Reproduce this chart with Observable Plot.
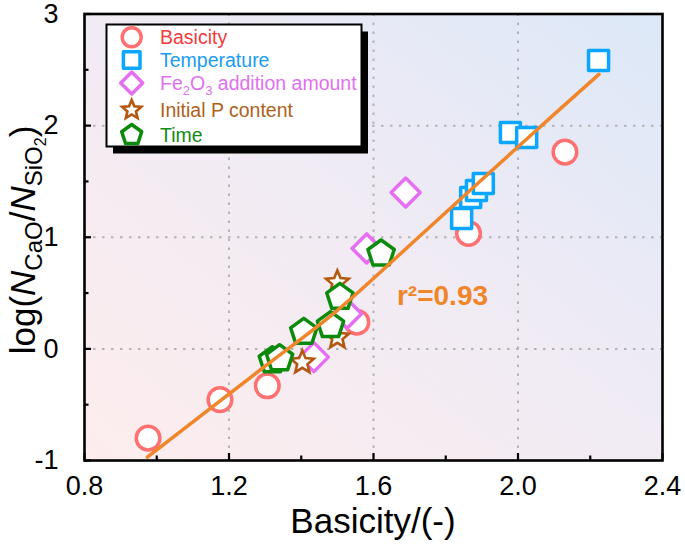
<!DOCTYPE html>
<html><head><meta charset="utf-8">
<script src="https://cdn.jsdelivr.net/npm/d3@7"></script>
<script src="https://cdn.jsdelivr.net/npm/@observablehq/plot@0.6"></script>
<style>body{margin:0;background:#fff}</style>
</head><body><div id="chart"></div>
<script>
// ---- data ----
const basicityX = [0.976, 1.175, 1.306, 1.554, 1.863, 2.130];
const basicityY = [-0.80, -0.455, -0.331, 0.239, 1.034, 1.763];
const temperatureX = [1.844, 1.869, 1.885, 1.904, 1.979, 2.024, 2.223];
const temperatureY = [1.168, 1.357, 1.419, 1.482, 1.939, 1.894, 2.584];
const fe2o3X = [1.435, 1.527, 1.581, 1.689];
const fe2o3Y = [-0.074, 0.315, 0.900, 1.401];
const initialPX = [1.403, 1.500, 1.500];
const initialPY = [-0.122, 0.102, 0.595];
const timeX = [1.320, 1.340, 1.407, 1.481, 1.507, 1.621];
const timeY = [-0.104, -0.086, 0.150, 0.210, 0.463, 0.852];
const fitX = [0.974, 1.287, 1.495, 1.730, 2.025, 2.224];
const fitY = [-0.970, -0.187, 0.331, 1.016, 1.883, 2.459];
const fitLabelText = ["r²=0.93"];
const fitLabelX = [1.791];
const fitLabelY = [0.47];
const xTicks = [0.8, 1.2, 1.6, 2.0, 2.4];
const xMinorTicks = [1.0, 1.4, 1.8, 2.2];
const yTicks = [-1, 0, 1, 2, 3];
const yMinorTicks = [-0.5, 0.5, 1.5, 2.5];
const xGridTicks = [1.2, 1.6, 2.0];
const yGridTicks = [0, 1, 2];
const seriesNames = ["Basicity", "Temperature", "Fe2O3 addition amount", "Initial P content", "Time"];
const xLabel = "Basicity/(-)";

// ---- styling ----
const W = 685, H = 546, ML = 84, MR = 23, MT = 13.5, MB = 86;
const innerW = W - ML - MR, innerH = H - MT - MB;
const FONT = "Arial, 'Liberation Sans', sans-serif";
const markerColors = ["#ff7070", "#0aa6ff", "#e56ef3", "#b4570f", "#0b8a0b"];
const textColors = ["#f03c3c", "#1a9cf2", "#e070ef", "#b0601a", "#138a13"];
const kinds = ["circle", "square", "diamond", "star", "pentagon"];
const plotR = [11.8, 10, 14.5, 12, 13.8];
const legendR = [9.5, 8.3, 11, 10, 10.5];
const strokeW = [3.5, 3.5, 3.5, 2.6, 3.5];

function makeSymbol(kind) {
  return {draw(ctx, size) {
    const r = Math.sqrt(size / Math.PI);
    if (kind === "circle") { ctx.moveTo(r, 0); ctx.arc(0, 0, r, 0, 2 * Math.PI); }
    else if (kind === "square") { ctx.rect(-r, -r, 2 * r, 2 * r); }
    else if (kind === "diamond") { ctx.moveTo(0, -r); ctx.lineTo(r, 0); ctx.lineTo(0, r); ctx.lineTo(-r, 0); ctx.closePath(); }
    else if (kind === "star") {
      for (let i = 0; i < 10; i++) {
        const a = -Math.PI / 2 + i * Math.PI / 5, rr = i % 2 ? r * 0.45 : r;
        const px = rr * Math.cos(a), py = rr * Math.sin(a);
        if (i) ctx.lineTo(px, py); else ctx.moveTo(px, py);
      }
      ctx.closePath();
    } else {
      for (let i = 0; i < 5; i++) {
        const a = -Math.PI / 2 + i * 2 * Math.PI / 5;
        const px = r * Math.cos(a), py = r * Math.sin(a);
        if (i) ctx.lineTo(px, py); else ctx.moveTo(px, py);
      }
      ctx.closePath();
    }
  }};
}

const seriesXY = [[basicityX, basicityY], [temperatureX, temperatureY], [fe2o3X, fe2o3Y], [initialPX, initialPY], [timeX, timeY]];
const dotMarks = seriesXY.map(([xs, ys], i) =>
  Plot.dot(xs.map((x, j) => ({x, y: ys[j]})), {
    x: "x", y: "y", r: plotR[i], symbol: makeSymbol(kinds[i]),
    fill: "white", stroke: markerColors[i], strokeWidth: strokeW[i],
    strokeLinejoin: kinds[i] === "star" ? "miter" : "round"
  }));

const fitData = fitX.map((x, i) => ({x, y: fitY[i]}));
const labelData = fitLabelText.map((t, i) => ({t, x: fitLabelX[i], y: fitLabelY[i]}));

const chart = Plot.plot({
  width: W, height: H,
  marginLeft: ML, marginRight: MR, marginTop: MT, marginBottom: MB,
  x: {domain: [0.8, 2.4], axis: null},
  y: {domain: [-1, 3], axis: null},
  style: {fontFamily: FONT, fontSize: "27px", background: "white", color: "black"},
  marks: [
    Plot.frame({fill: "url(#bgGrad)", stroke: null}),
    Plot.gridX(xGridTicks, {stroke: "#b3b3b3", strokeOpacity: 1, strokeWidth: 2, strokeDasharray: "2.5,6.5"}),
    Plot.gridY(yGridTicks, {stroke: "#b3b3b3", strokeOpacity: 1, strokeWidth: 2, strokeDasharray: "2.5,6.5"}),
    Plot.tickX(xTicks, {x: d => d, stroke: "black", strokeWidth: 2.2, insetTop: innerH - 7}),
    Plot.tickX(xMinorTicks, {x: d => d, stroke: "black", strokeWidth: 2.2, insetTop: innerH - 4.5}),
    Plot.tickY(yTicks, {y: d => d, stroke: "black", strokeWidth: 2.2, insetRight: innerW - 7}),
    Plot.tickY(yMinorTicks, {y: d => d, stroke: "black", strokeWidth: 2.2, insetRight: innerW - 4.5}),
    ...dotMarks,
    Plot.line(fitData, {x: "x", y: "y", stroke: "#f0852a", strokeWidth: 3.5, curve: "catmull-rom"}),
    Plot.text(labelData, {x: "x", y: "y", text: "t", fill: "#f0852a", fontSize: 28, fontWeight: "bold", textAnchor: "middle"}),
    Plot.frame({stroke: "black", strokeWidth: 2.6}),
    Plot.axisX({ticks: xTicks, tickSize: 0, tickPadding: 15, tickFormat: d3.format(".1f"), label: null}),
    Plot.axisY({ticks: yTicks, tickSize: 0, tickPadding: 26, tickFormat: d => String(d), label: null})
  ]
});

document.getElementById("chart").appendChild(chart);
const svg = d3.select(chart);

// background gradient
const defs = svg.insert("defs", ":first-child");
const grad = defs.append("linearGradient").attr("id", "bgGrad")
  .attr("x1", 0).attr("y1", 1).attr("x2", 1).attr("y2", 0);
grad.append("stop").attr("offset", 0).attr("stop-color", "#fdeded");
grad.append("stop").attr("offset", 0.5).attr("stop-color", "#f1ebf4");
grad.append("stop").attr("offset", 1).attr("stop-color", "#dce8f8");

// x axis title
svg.append("text").attr("x", ML + innerW / 2).attr("y", 533)
  .attr("text-anchor", "middle").attr("font-family", FONT).attr("font-size", 35).attr("fill", "black")
  .text(xLabel);

// y axis title with subscripts
const yt = svg.append("text").attr("transform", `translate(35,240) rotate(-90)`)
  .attr("text-anchor", "middle").attr("font-family", FONT).attr("font-size", 35).attr("fill", "black");
yt.append("tspan").text("log(");
yt.append("tspan").attr("font-style", "italic").text("N");
yt.append("tspan").attr("font-size", 24).attr("dy", 7).text("CaO");
yt.append("tspan").attr("dy", -7).text("/");
yt.append("tspan").attr("font-style", "italic").text("N");
yt.append("tspan").attr("font-size", 24).attr("dy", 7).text("SiO");
yt.append("tspan").attr("font-size", 16).attr("dy", 4).text("2");
yt.append("tspan").attr("dy", -11).text(")");

// legend
const lg = svg.append("g").attr("font-family", FONT).attr("text-anchor", "start");
const LX = 106.5, LY = 24.5, LW = 255, LH = 122;
lg.append("rect").attr("x", LX + 6.5).attr("y", LY + 7).attr("width", LW).attr("height", LH).attr("fill", "black");
lg.append("rect").attr("x", LX).attr("y", LY).attr("width", LW).attr("height", LH).attr("fill", "white").attr("stroke", "black").attr("stroke-width", 2);
const rowY = [37.3, 60, 83, 110, 135];
seriesNames.forEach((name, i) => {
  const p = d3.path();
  makeSymbol(kinds[i]).draw(p, legendR[i] * legendR[i] * Math.PI);
  lg.append("path").attr("d", p.toString()).attr("transform", `translate(131.7,${rowY[i]})`)
    .attr("fill", "white").attr("stroke", markerColors[i]).attr("stroke-width", strokeW[i])
    .attr("stroke-linejoin", kinds[i] === "star" ? "miter" : "round");
  const t = lg.append("text").attr("x", 160).attr("y", rowY[i] + 7).attr("font-size", 19.5)
    .attr("text-anchor", "start").attr("fill", textColors[i]);
  if (name === "Fe2O3 addition amount") {
    t.append("tspan").text("Fe");
    t.append("tspan").attr("font-size", 13).attr("dy", 5).text("2");
    t.append("tspan").attr("dy", -5).text("O");
    t.append("tspan").attr("font-size", 13).attr("dy", 5).text("3");
    t.append("tspan").attr("dy", -5).text(" addition amount");
  } else {
    t.text(name);
  }
});
</script>
</body></html>
